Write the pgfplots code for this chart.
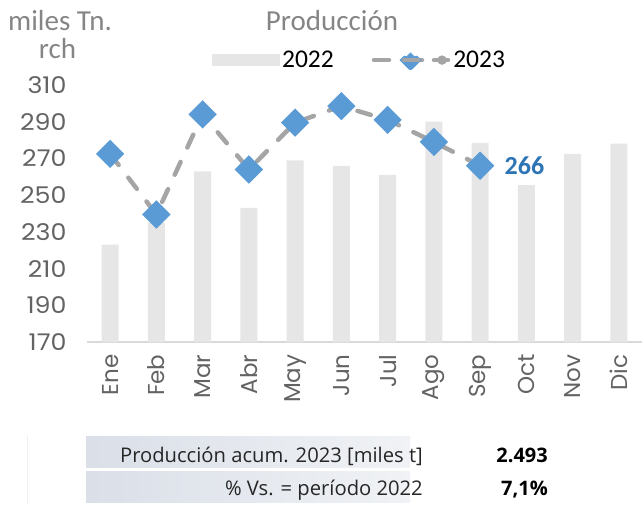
\documentclass[border=0pt]{standalone}
\usepackage{fontspec}
\usepackage{pgfplots}
\pgfplotsset{compat=1.18}
\setmainfont{Carlito}
\newfontfamily\tickfont{Poppins}
\newfontfamily\ytickfont[FakeStretch=1.1]{Poppins}
\newfontfamily\tabfont{Open Sans}
\definecolor{barc}{HTML}{E7E6E6}
\definecolor{linc}{HTML}{A5A5A5}
\definecolor{mkc}{HTML}{5B9BD5}
\definecolor{lblc}{HTML}{2E75B6}
\definecolor{tickc}{HTML}{636363}
\definecolor{ttlc}{HTML}{858585}
\definecolor{axc}{HTML}{D9D9D9}
\definecolor{tabl}{HTML}{DADFE8}
\definecolor{tabr}{HTML}{F0F2F5}
\pgfplotsset{
  barlegend/.style={legend image code/.code={\fill[barc] (0pt,-6pt) rectangle (68pt,6pt);}},
  linelegend/.style={legend image code/.code={%
    \draw[solid, linc, line width=4.5pt, line cap=round] (2.5pt,0pt) -- (15pt,0pt);
    \draw[solid, linc, line width=4.5pt, line cap=round] (36pt,0pt) -- (48pt,0pt);
    \fill[linc] (68pt,0pt) circle (2.3pt);
    \fill[mkc, shift={(36.5pt,0pt)}, rotate=45] (-5.5pt,-5.5pt) rectangle (5.5pt,5.5pt);
    \path (0pt,0pt) -- (75pt,0pt);}},
}
\begin{document}
\begin{tikzpicture}[x=1pt,y=1pt]
\useasboundingbox (0,0) rectangle (642,504);
\begin{axis}[
  at={(87pt,162pt)}, anchor=south west,
  scale only axis, width=555pt, height=257pt,
  xmin=-0.5, xmax=11.5, ymin=170, ymax=310,
  ytick={170,190,...,310},
  xtick={0,...,11},
  xticklabels={Ene,Feb,Mar,Abr,May,Jun,Jul,Ago,Sep,Oct,Nov,Dic},
  axis x line*=bottom, axis y line*=left,
  y axis line style={draw=none},
  x axis line style={draw=axc, line width=1.5pt},
  major tick length=0pt,
  /pgf/number format/assume math mode=true,
  yticklabel style={font=\ytickfont\fontsize{23}{23}\selectfont, text=tickc, xshift=-17pt},
  xticklabel style={font=\tickfont\fontsize{23}{23}\selectfont, text=tickc, rotate=90, anchor=east},
  xticklabel shift=9pt,
  legend columns=2,
  legend style={draw=none, fill=none, at={(0.225,1.097)}, anchor=west, inner sep=0pt,
    font=\fontsize{25.5}{25.5}\selectfont,
    nodes={inner sep=2pt},
    /tikz/every even column/.append style={column sep=36pt}},
]
\addplot[ybar, bar width=17pt, bar shift=0pt, fill=barc, draw=none, barlegend]
  coordinates {(0,223) (1,235) (2,263) (3,243) (4,269) (5,266) (6,261) (7,290) (8,278.5) (9,255.5) (10,272.5) (11,278)};
\addlegendentry{2022}
\addplot[linc, line width=4.5pt, dash pattern=on 14pt off 16pt, line cap=round,
  mark=square*, mark size=7.8pt, mark options={solid, fill=mkc, draw=mkc, rotate=45}, linelegend]
  coordinates {(0,272.5) (1,239.5) (2,294) (3,264) (4,289.5) (5,298.5) (6,291) (7,279) (8,266)};
\addlegendentry{2023}
\addplot[forget plot, draw=none, nodes near coords, point meta=explicit symbolic,
  nodes near coords style={font=\bfseries\fontsize{26}{26}\selectfont, text=lblc, anchor=west, xshift=21pt}]
  coordinates {(8,266) [266]};
\end{axis}
\node[font=\fontsize{29}{29}\selectfont, text=ttlc, anchor=base] at (332,473) {Producción};
\node[font=\fontsize{29}{29}\selectfont, text=ttlc, anchor=base] at (60,473) {miles Tn.};
\node[font=\fontsize{29}{29}\selectfont, text=ttlc, anchor=base] at (57.5,445) {rch};
\shade[left color=tabl, right color=tabr] (86,37) rectangle (410,68);
\shade[left color=tabl, right color=tabr] (86,2) rectangle (410,33);
\draw[gray!12, line width=1pt] (27,0) -- (27,69);
\node[font=\tabfont\fontsize{20.2}{20.2}\selectfont, text=black!85, anchor=base east, inner sep=0pt] at (423,42) {Producción acum. 2023 [miles t]};
\node[font=\tabfont\fontsize{20.2}{20.2}\selectfont, text=black!85, anchor=base east, inner sep=0pt] at (423,9) {\% Vs. = período 2022};
\node[font=\tabfont\bfseries\fontsize{20}{20}\selectfont, text=black, anchor=base east, inner sep=0pt] at (548,42) {2.493};
\node[font=\tabfont\bfseries\fontsize{20}{20}\selectfont, text=black, anchor=base east, inner sep=0pt] at (548,9) {7,1\%};
\end{tikzpicture}
\end{document}
